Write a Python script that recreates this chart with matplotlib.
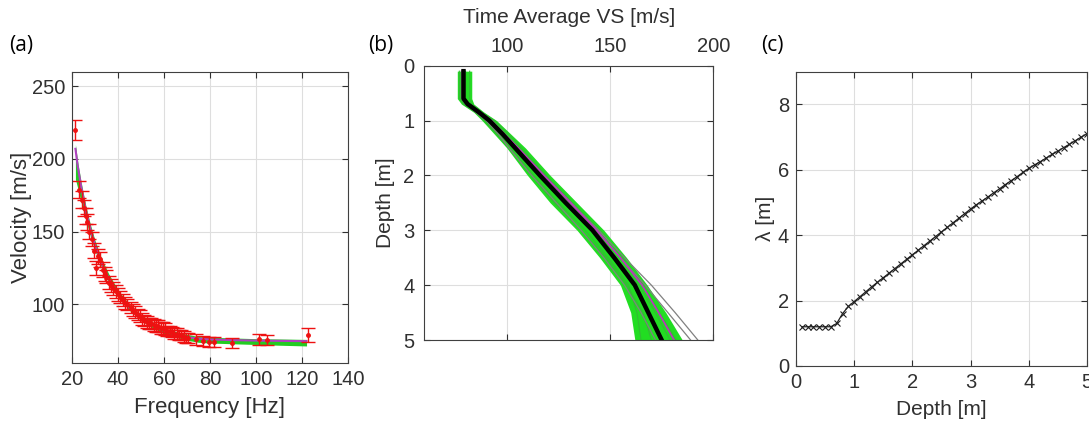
import numpy as np
import matplotlib
matplotlib.use('Agg')
import matplotlib.pyplot as plt

plt.rcParams['font.family'] = ['Liberation Sans', 'DejaVu Sans']

# (a) measured dispersion points
freq = [21.5, 23.2, 24.5, 25.1, 26.0, 26.4, 27.6, 28.5, 29.5, 30.5, 31.3, 32.0, 33.4, 34.2,
        34.9, 36.3, 37.0, 38.0, 39.0, 40.0, 41.0, 42.0, 43.0, 44.0, 45.5, 46.5, 47.5, 48.5,
        49.5, 50.5, 51.5, 52.5, 53.5, 54.5, 55.5, 56.5, 57.5, 58.5, 59.5, 60.5, 61.5, 62.5,
        63.5, 64.5, 65.5, 66.5, 67.5, 68.5, 69.5, 70.5, 74.0, 77.0, 79.4, 81.6, 89.6, 101.3,
        105.0, 122.8]
vel = [220, 179, 172, 166, 161, 157, 150, 145, 137, 125, 133, 131, 124, 121,
       119, 115, 113, 111, 109, 107, 105, 103, 101, 100, 98, 96, 95, 93,
       92, 90, 89, 88, 87, 87, 86, 85, 85, 84, 84, 83, 82, 82,
       81, 80, 80, 79, 79, 78, 77, 77, 76, 75, 74.5, 74, 73.5, 76,
       75.5, 79]
err = [7, 6, 6, 5.5, 5.5, 5.5, 5, 5, 5, 5, 5, 5, 5, 5,
       4.5, 4.5, 4.5, 4.5, 4.5, 4.5, 4, 4, 4, 4, 4, 4, 4, 4,
       4, 4, 4, 4, 4, 4, 4, 4, 4, 4, 4, 4, 3.5, 3.5,
       3.5, 3.5, 3.5, 3.5, 3.5, 3.5, 3.5, 3.5, 3.5, 3.5, 3.5, 3.5, 3.5, 3.5,
       3.5, 5]

# (a) modelled curves
f_model = [21.5, 22.5, 24, 26, 28, 30, 33, 36, 40, 45, 50, 55, 60, 65, 70, 75, 80, 90, 100, 110, 122]
v_magenta = [207, 195, 181, 165, 152, 141, 128, 118, 107, 98, 91, 86, 82, 79.5, 77.5, 76.5, 76, 75.5, 75.2, 75, 74.8]
v_green_lo = [186, 180, 170, 158, 147, 137, 125, 115, 105, 96, 89, 84, 80, 77.5, 75.5, 74, 73.5, 73, 72.5, 72, 71.5]
v_green_hi = [210, 198, 184, 168, 155, 144, 131, 121, 110, 100, 93, 88, 84, 81.5, 79.5, 78, 77.5, 77, 76.5, 76.3, 76]

# (b) time averaged Vs profiles
depth_b = [0.1, 0.6, 0.7, 0.85, 1.0, 1.25, 1.5, 2.0, 2.5, 3.0, 3.5, 4.0, 4.5, 5.0]
vs_black = [79, 79, 81, 86.5, 91.5, 98, 104, 116, 128.5, 141.5, 152, 162, 168.5, 175]
vs_magenta = [79, 79, 81, 87, 92.5, 99, 105.5, 118, 131, 143.5, 155, 165.5, 173.5, 181]
vs_green_lo = [76, 76, 78, 84, 88, 94, 100, 110, 121, 134, 145, 155, 160, 162]
vs_green_hi = [83, 83, 84, 89, 95, 102, 109, 121, 134, 147, 158, 168, 177, 185]
vs_green = [
    [77, 77, 79, 85, 90, 96, 102, 113, 125, 138, 149, 159, 163, 165],
    [82, 82, 83, 88, 94, 101, 107, 119, 132, 145, 156, 166, 174, 182],
    [80, 80, 82, 86, 92, 99, 105, 117, 130, 142, 153, 164, 172, 179],
    [78, 78, 80, 85, 89, 95, 101, 112, 123, 136, 148, 158, 166, 170],
]
vs_grey = [
    [79, 79, 81, 87, 92, 99, 105, 117, 130, 143, 155, 167, 178, 189],
    [79, 79, 81, 87, 92, 99, 105.5, 118, 131, 144.5, 157, 170, 181.5, 192.5],
    [78, 78, 80, 85, 90, 96, 101, 112, 124, 136, 147, 157, 165, 172],
]

# (c) wavelength vs depth
depth_c = [0.1, 0.2, 0.3, 0.4, 0.5, 0.6, 0.7, 0.8, 0.9, 1.0,
           1.1, 1.2, 1.3, 1.4, 1.5, 1.6, 1.7, 1.8, 1.9, 2.0,
           2.1, 2.2, 2.3, 2.4, 2.5, 2.6, 2.7, 2.8, 2.9, 3.0,
           3.1, 3.2, 3.3, 3.4, 3.5, 3.6, 3.7, 3.8, 3.9, 4.0,
           4.1, 4.2, 4.3, 4.4, 4.5, 4.6, 4.7, 4.8, 4.9, 5.0]
lam = [1.2, 1.2, 1.2, 1.2, 1.2, 1.2, 1.3, 1.6, 1.82, 1.97,
       2.12, 2.27, 2.42, 2.56, 2.7, 2.84, 2.98, 3.12, 3.26, 3.40,
       3.54, 3.68, 3.82, 3.96, 4.1, 4.24, 4.38, 4.52, 4.66, 4.8,
       4.93, 5.05, 5.17, 5.3, 5.42, 5.55, 5.67, 5.79, 5.92, 6.04,
       6.15, 6.25, 6.36, 6.47, 6.57, 6.68, 6.78, 6.89, 7.0, 7.1]

tc = '#303030'


def style(ax):
    ax.grid(True, color='#dedede', linewidth=0.8)
    ax.set_axisbelow(True)
    ax.tick_params(direction='in', length=4, width=0.8, colors=tc, labelsize=14.5,
                   top=True, right=True, pad=5)
    for s in ax.spines.values():
        s.set_color('#404040')
        s.set_linewidth(0.8)


fig = plt.figure(figsize=(10.89, 4.24), dpi=100)

# (a)
ax1 = fig.add_axes([0.0661, 0.1446, 0.2534, 0.6863])
ax1.fill_between(f_model, v_green_lo, v_green_hi, color='#22cc22', lw=0)
ax1.plot(f_model, v_magenta, color='#b040c0', lw=1.5)
ax1.errorbar(freq, vel, yerr=err, fmt='.', color='#ee1111', ms=5, capsize=5, elinewidth=1,
             capthick=1)
ax1.set_xlim(20, 140)
ax1.set_ylim(60, 260)
ax1.set_xticks([20, 40, 60, 80, 100, 120, 140])
ax1.set_yticks([100, 150, 200, 250])
ax1.set_xlabel('Frequency [Hz]', fontsize=16, color=tc, labelpad=6)
ax1.set_ylabel('Velocity [m/s]', fontsize=16, color=tc)
ax1.yaxis.set_label_coords(-0.145, 0.5)
style(ax1)

# (b)
ax2 = fig.add_axes([0.3896, 0.1981, 0.2654, 0.647])
ax2.fill_betweenx(depth_b, vs_green_lo, vs_green_hi, color='#22dd22', lw=0)
for g in vs_green:
    ax2.plot(g, depth_b, color='#33bb33', lw=0.8)
for g in vs_grey:
    ax2.plot(g, depth_b, color='#808080', lw=0.9)
ax2.plot(vs_magenta, depth_b, color='#c030c0', lw=1.2)
ax2.plot(vs_black, depth_b, color='black', lw=3.2)
ax2.set_xlim(60, 200)
ax2.set_ylim(5, 0)
ax2.set_xticks([100, 150, 200])
ax2.set_yticks([0, 1, 2, 3, 4, 5])
ax2.xaxis.tick_top()
ax2.xaxis.set_label_position('top')
ax2.set_xlabel('Time Average VS [m/s]', fontsize=15, color=tc, labelpad=10)
ax2.set_ylabel('Depth [m]', fontsize=15, color=tc, labelpad=6)
style(ax2)
ax2.tick_params(bottom=True, labelbottom=False, labeltop=True, pad=7)

# (c)
ax3 = fig.add_axes([0.7309, 0.1368, 0.2672, 0.6941])
ax3.plot(depth_c, lam, color='#202020', lw=0.9, marker='x', ms=4, mew=0.8)
ax3.set_xlim(0, 5)
ax3.set_ylim(0, 9)
ax3.set_xticks([0, 1, 2, 3, 4, 5])
ax3.set_yticks([0, 2, 4, 6, 8])
ax3.set_xlabel('Depth [m]', fontsize=15, color=tc, labelpad=6)
ax3.set_ylabel('λ [m]', fontsize=15, color=tc, labelpad=2)
style(ax3)

for x, s in [(0.008, '(a)'), (0.338, '(b)'), (0.699, '(c)')]:
    fig.text(x, 1 - 45 / 424, s, fontsize=15, family=['Open Sans', 'DejaVu Sans'],
             va='center', color='black')

fig.savefig('out.png', dpi=100)
